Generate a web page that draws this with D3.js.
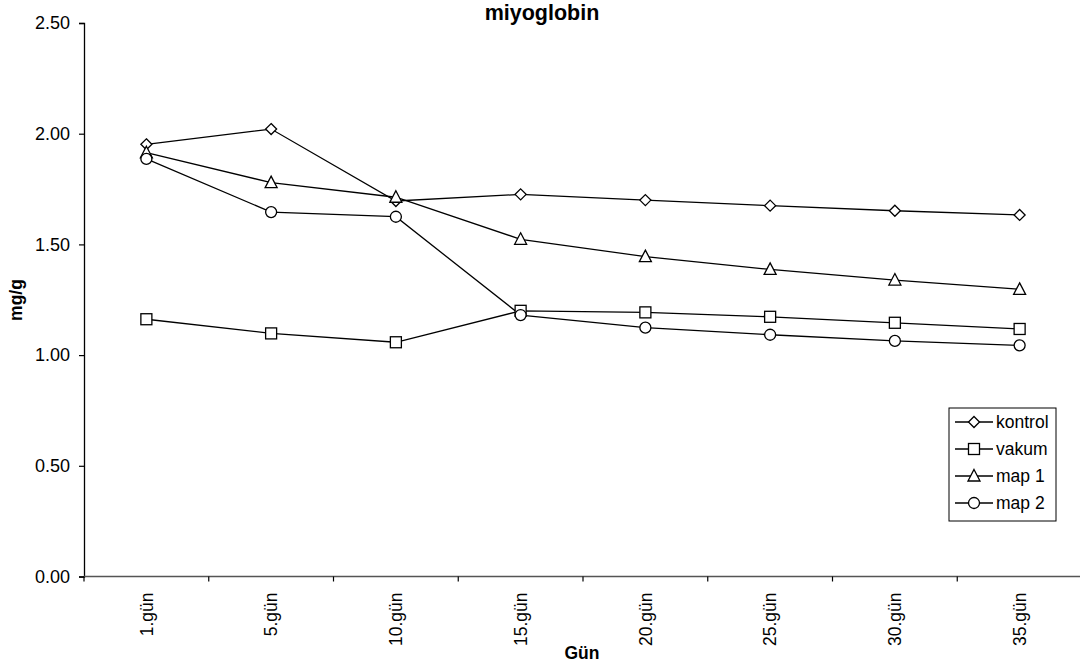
<!DOCTYPE html>
<html>
<head>
<meta charset="utf-8">
<script src="https://cdn.jsdelivr.net/npm/d3@7/dist/d3.min.js"></script>
<style>
  html, body { margin: 0; padding: 0; background: #fff; }
  svg { display: block; font-family: "Liberation Sans", Arial, sans-serif; }
</style>
</head>
<body>
<svg id="chart" width="1080" height="663"></svg>
<script>
// Sampling days
const days = ["1.gün", "5.gün", "10.gün", "15.gün", "20.gün", "25.gün", "30.gün", "35.gün"];

// Myoglobin (mg/g) per treatment
const kontrol = [1.952, 2.021, 1.696, 1.726, 1.700, 1.675, 1.652, 1.633];
const vakum   = [1.162, 1.098, 1.058, 1.200, 1.193, 1.173, 1.146, 1.118];
const map1    = [1.914, 1.779, 1.713, 1.523, 1.445, 1.387, 1.339, 1.297];
const map2    = [1.886, 1.646, 1.625, 1.181, 1.124, 1.092, 1.064, 1.044];

const yTicks = [0, 0.5, 1.0, 1.5, 2.0, 2.5];

const series = [
  { name: "kontrol", values: kontrol, symbol: "diamond" },
  { name: "vakum",   values: vakum,   symbol: "square" },
  { name: "map 1",   values: map1,    symbol: "triangle" },
  { name: "map 2",   values: map2,    symbol: "circle" }
];

const svg = d3.select("#chart");
const plotLeft = 84, plotTop = 23, plotBottom = 576.5, plotRight = 1082;
const FONT = "Liberation Sans, Arial, sans-serif";

const x = d3.scaleBand().domain(days).range([plotLeft, plotRight]);
const y = d3.scaleLinear().domain([0, 2.5]).range([plotBottom, plotTop]);
const cx = d => x(d) + x.bandwidth() / 2;

// Marker shapes drawn around (0,0)
function marker(sel, kind) {
  const s = 5.5;
  if (kind === "diamond") {
    sel.append("path").attr("d", `M0,${-s}L${s},0L0,${s}L${-s},0Z`);
  } else if (kind === "square") {
    sel.append("rect").attr("x", -s).attr("y", -s).attr("width", 2 * s).attr("height", 2 * s);
  } else if (kind === "triangle") {
    sel.append("path").attr("d", `M0,-6.5L6,5L-6,5Z`);
  } else {
    sel.append("circle").attr("r", s);
  }
  sel.selectAll("*").attr("fill", "#fff").attr("stroke", "#000").attr("stroke-width", 1.3);
}

// Y axis
const yAxis = d3.axisLeft(y).tickValues(yTicks).tickFormat(d3.format(".2f")).tickSize(5).tickPadding(9);
const gy = svg.append("g").attr("transform", `translate(${plotLeft},0)`).call(yAxis);
gy.select(".domain").attr("stroke", "#000").attr("stroke-width", 1.3);
gy.selectAll(".tick line").attr("stroke", "#000").attr("stroke-width", 1.2);
gy.selectAll(".tick text").attr("font-size", 18).attr("fill", "#000").attr("font-family", FONT);

// X axis with tick marks on category boundaries
const gx = svg.append("g").attr("transform", `translate(0,${plotBottom})`);
gx.append("line").attr("x1", plotLeft).attr("x2", plotRight).attr("y1", 0).attr("y2", 0)
  .attr("stroke", "#555").attr("stroke-width", 1.5);
days.forEach(d => {
  gx.append("line").attr("x1", x(d)).attr("x2", x(d)).attr("y1", 0).attr("y2", 5)
    .attr("stroke", "#000").attr("stroke-width", 1.2);
});
gx.selectAll("text.cat").data(days).join("text")
  .attr("class", "cat")
  .attr("transform", d => `translate(${cx(d)},16) rotate(-90)`)
  .attr("text-anchor", "end")
  .attr("dy", "0.35em")
  .attr("font-size", 17.5)
  .attr("font-family", FONT)
  .attr("fill", "#000")
  .text(d => d);

// Lines and markers
const line = d3.line().x((v, i) => cx(days[i])).y(v => y(v));
series.forEach(s => {
  svg.append("path").datum(s.values).attr("d", line)
    .attr("fill", "none").attr("stroke", "#000").attr("stroke-width", 1.3);
});
series.forEach(s => {
  s.values.forEach((v, i) => {
    const g = svg.append("g").attr("transform", `translate(${cx(days[i])},${y(v)})`);
    marker(g, s.symbol);
  });
});

// Title and axis titles
svg.append("text").attr("x", 542).attr("y", 20).attr("text-anchor", "middle")
  .attr("font-size", 21.5).attr("font-weight", "bold").attr("font-family", FONT).text("miyoglobin");
svg.append("text").attr("transform", "translate(22,300) rotate(-90)")
  .attr("text-anchor", "middle").attr("font-size", 17.5).attr("font-weight", "bold")
  .attr("font-family", FONT).text("mg/g");
svg.append("text").attr("x", 582).attr("y", 659).attr("text-anchor", "middle")
  .attr("font-size", 17.5).attr("font-weight", "bold").attr("font-family", FONT).text("Gün");

// Legend
const lg = svg.append("g").attr("transform", "translate(949,408)");
lg.append("rect").attr("width", 107).attr("height", 113)
  .attr("fill", "#fff").attr("stroke", "#000").attr("stroke-width", 1);
series.forEach((s, i) => {
  const row = lg.append("g").attr("transform", `translate(0,${14 + i * 27})`);
  row.append("line").attr("x1", 6).attr("x2", 44).attr("y1", 0).attr("y2", 0)
    .attr("stroke", "#000").attr("stroke-width", 1.3);
  const m = row.append("g").attr("transform", "translate(25,0)");
  marker(m, s.symbol);
  row.append("text").attr("x", 47).attr("y", 0).attr("dy", "0.35em")
    .attr("font-size", 17.5).attr("font-family", FONT).attr("fill", "#000").text(s.name);
});
</script>
</body>
</html>
